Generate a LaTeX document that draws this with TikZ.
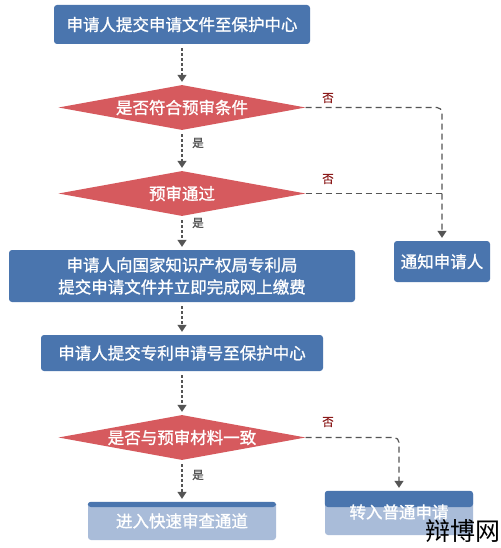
\documentclass[tikz,border=0pt]{standalone}
\usepackage{fontspec}
\newfontfamily\cjk{Noto Sans CJK SC}
\newfontfamily\cjkb[FakeBold=1.2]{Noto Sans CJK SC}
\usetikzlibrary{shapes.geometric,arrows.meta}
\definecolor{boxblue}{HTML}{4A75AE}
\definecolor{lightblue}{HTML}{A9BCD9}
\definecolor{dred}{HTML}{D65A5E}
\definecolor{lgray}{HTML}{555555}
\definecolor{nored}{HTML}{8B1A1A}
\tikzset{
  bluebox/.style={fill=boxblue,rounded corners=3pt,inner sep=0pt,text=white,font=\cjkb\fontsize{16.5}{22}\selectfont,align=center},
  decision/.style={diamond,fill=dred,inner sep=0pt,aspect=5.5,minimum width=247pt,minimum height=45pt,text=white,font=\cjkb\fontsize{16.5}{20}\selectfont},
  varrow/.style={draw=lgray,line width=1.2pt,dash pattern=on 3pt off 2pt,-{Triangle[length=7pt,width=9pt]},shorten <=4pt,shorten >=3pt},
  harrow/.style={draw=lgray,line width=1.2pt,dash pattern=on 6pt off 4pt,rounded corners=5pt},
  nolabel/.style={text=nored,font=\cjkb\fontsize{11.5}{13}\selectfont,inner sep=0pt},
  yeslabel/.style={text=lgray,font=\cjkb\fontsize{11.5}{13}\selectfont,inner sep=0pt}
}
\begin{document}
\begin{tikzpicture}[x=1pt,y=-1pt]
\useasboundingbox[fill=white] (0,0) rectangle (500,548);
\node[bluebox,minimum width=256pt,minimum height=39pt] (b1) at (182,24.5) {申请人提交申请文件至保护中心};
\node[decision] (d1) at (182,107.5) {是否符合预审条件};
\node[decision] (d2) at (182,193.5) {预审通过};
\node[bluebox,minimum width=346pt,minimum height=52pt] (b3) at (182,276) {申请人向国家知识产权局专利局\\提交申请文件并立即完成网上缴费};
\node[bluebox,minimum width=96pt,minimum height=41pt] (n1) at (442,261.5) {通知申请人};
\node[bluebox,minimum width=282pt,minimum height=36pt] (b4) at (182,353) {申请人提交专利申请号至保护中心};
\node[decision] (d3) at (182,437.5) {是否与预审材料一致};
% bottom boxes with faded lower part
\node[bluebox,fill=lightblue,minimum width=188pt,minimum height=38pt] (b5) at (182,521) {};
\fill[boxblue,rounded corners=3pt] (b5.north west) rectangle (276,507);
\node[text=white,font=\cjkb\fontsize{16.5}{20}\selectfont,inner sep=0pt] (t5) at (b5.center) {进入快速审查通道};
\node[bluebox,fill=lightblue,minimum width=148pt,minimum height=44pt] (b6) at (399,513) {};
\fill[boxblue,rounded corners=3pt] (b6.north west) rectangle (473,507);
\node[text=white,font=\cjkb\fontsize{16.5}{20}\selectfont,inner sep=0pt] (t6) at (399,512) {转入普通申请};
% connectors
\draw[varrow] (b1.south) -- (d1.north);
\draw[varrow] (d1.south) -- (d2.north);
\draw[varrow] (d2.south) -- (b3.north);
\draw[varrow] (b3.south) -- (b4.north);
\draw[varrow] (b4.south) -- (d3.north);
\draw[varrow] (d3.south) -- (b5.north);
\draw[harrow,-{Triangle[length=7pt,width=9pt]},shorten >=3pt] (d1.east) -| (n1.north);
\draw[harrow] (d2.east) -- (d2.east -| n1.north);
\draw[harrow,-{Triangle[length=7pt,width=9pt]},shorten >=3pt] (d3.east) -| (b6.north);
% labels
\node[nolabel] (no1) at (328,98) {否};
\node[nolabel] (no2) at (328,179) {否};
\node[nolabel] (no3) at (328,422) {否};
\node[yeslabel] (y1) at (198,143) {是};
\node[yeslabel] (y2) at (198,223) {是};
\node[yeslabel] (y3) at (198,475) {是};
\node[text=black,font=\cjk\fontsize{25}{27}\selectfont,inner sep=0pt,anchor=east] (wm) at (501,531) {辩博网};
\end{tikzpicture}
\end{document}
